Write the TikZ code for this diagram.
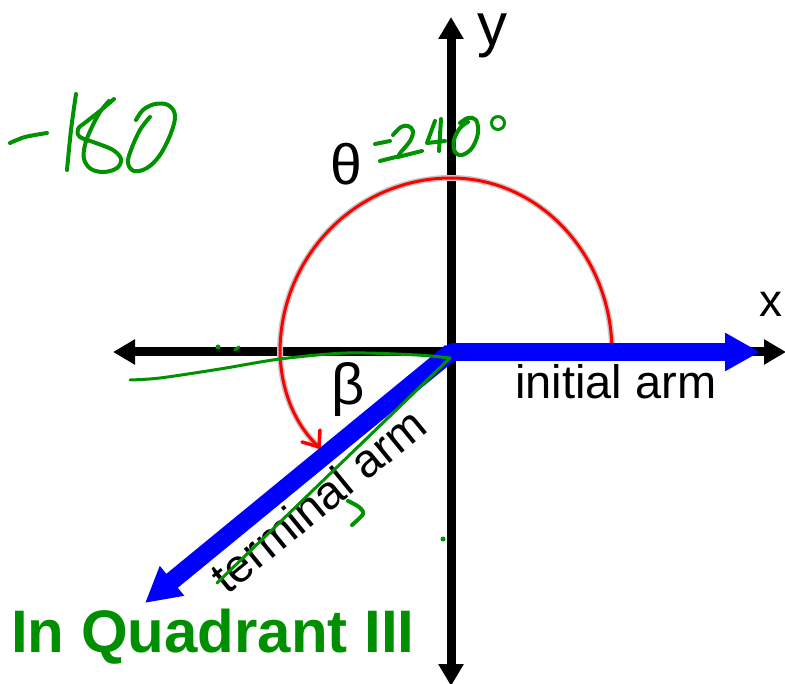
\documentclass[tikz,border=0pt]{standalone}
\usepackage{fontspec}
\setmainfont{Liberation Sans}
\usetikzlibrary{arrows.meta}
\definecolor{hgreen}{RGB}{0,146,0}
\definecolor{tgreen}{RGB}{0,143,0}
\tikzset{
  axis/.style={line width=9pt, draw=black, {Triangle[length=22pt,width=24pt]}-{Triangle[length=22pt,width=24pt]}},
  arm/.style={line width=18pt, draw=blue, -{Triangle[length=35pt,width=36pt]}},
  ink/.style={draw=hgreen, line width=4pt, line cap=round, line join=round},
  thinink/.style={draw=hgreen, line width=3pt, line cap=round, line join=round},
  lbl/.style={inner sep=0pt, anchor=base west},
}
\begin{document}
\begin{tikzpicture}[x=1pt,y=-1pt]
\useasboundingbox (0,0) rectangle (785,684);
% coordinates
\coordinate (O) at (451,352);
\coordinate (ytop) at (451,17);
\coordinate (ybot) at (451,686);
\coordinate (xleft) at (113,352);
\coordinate (xright) at (786,352);
\coordinate (initip) at (760,352);
\coordinate (termtip) at (145,603);
% axes
\draw[axis] (xleft) -- (xright);
\draw[axis] (ybot) -- (ytop);
% red angle arc
\coordinate (a0) at (612,352);
\coordinate (a1) at (451,178);
\coordinate (a2) at (280,352);
\coordinate (a3) at (319,447);
\path[draw=gray!45, line width=6pt, line cap=round]
  (a0) .. controls (612,256) and (540,178) .. (a1)
       .. controls (357,178) and (280,256) .. (a2)
       .. controls (281,395) and (298,428) .. (a3);
\path[draw=red, line width=3pt, line cap=round, line join=round]
  (a0) .. controls (612,256) and (540,178) .. (a1)
       .. controls (357,178) and (280,256) .. (a2)
       .. controls (281,395) and (298,428) .. (a3);
\coordinate (h1) at (320,430);
\coordinate (h2) at (302,442);
\draw[red, line width=3.5pt, line cap=round, line join=round] (h1) -- (a3) -- (h2);
% blue arms
\draw[arm] (O) -- (initip);
\draw[arm] (O) -- (termtip);
\fill[blue] (O) circle (8pt);
% labels
\node[lbl, font=\fontsize{60}{60}\selectfont] (ylab) at (477,46) {y};
\node[lbl, font=\fontsize{46}{46}\selectfont] (xlab) at (759,317) {x};
\node[lbl, font=\fontsize{57}{57}\selectfont] (theta) at (330,185) {θ};
\node[lbl, font=\fontsize{58}{58}\selectfont] (beta) at (331,405) {β};
\node[lbl, font=\fontsize{47}{47}\selectfont] (ini) at (515,399) {initial arm};
\node[inner sep=0pt, rotate=39.3, font=\fontsize{47}{47}\selectfont] (ter) at (318,500) {terminal arm};
\node[lbl, text=tgreen, font=\bfseries\fontsize{60}{60}\selectfont] (quad) at (11,652) {In Quadrant III};
% handwriting: -180
\draw[ink] plot[smooth] coordinates {(10,143) (25,137) (47,133)};
\draw[ink] plot[smooth] coordinates {(76,94) (71,130) (67,170)};
\draw[ink] plot[smooth, tension=0.6] coordinates {(114,99) (100,111) (86,122) (78,129) (80,137) (96,143) (113,150) (121,159) (117,168) (104,172) (91,169) (84,159) (85,145) (91,129) (100,112) (109,101)};
\draw[ink] plot[smooth, tension=0.6] coordinates {(150,117) (140,130) (131,150) (128,163) (134,171) (147,168) (160,155) (171,133) (175,115) (168,105) (155,104) (143,110) (136,120)};
% handwriting: =240°
\draw[ink] (375,144) -- (390,141);
\draw[ink] (380,161) -- (396,157);
\draw[ink] plot[smooth, tension=0.6] coordinates {(393,135) (401,127) (408,126) (413,131) (410,141) (401,152) (398,157)};
\draw[ink] (398,157) -- (422,151);
\draw[ink] (435,121) -- (427,143) -- (445,141);
\draw[ink] (441,119) -- (439,151);
\draw[ink] plot[smooth, tension=0.6] coordinates {(468,122) (460,128) (454,140) (455,152) (462,155) (472,148) (478,133) (476,120) (468,118) (460,123)};
\draw[draw=hgreen, line width=3pt] (498,123) circle (6.5pt);
% handwriting near axes
\draw[thinink] plot[smooth] coordinates {(130,380) (160,378) (220,369) (280,359) (347,353) (417,355) (450,358)};
\coordinate (gend) at (217,583);
\draw[thinink] (450,358) -- (gend);
\fill[hgreen] (218,347) circle (2.5pt);
\draw[thinink] (235,350) -- (239,347);
\fill[hgreen] (443,539) circle (2.5pt);
\draw[ink] plot[smooth] coordinates {(348,501) (359,507) (363,514) (352,525)};
\end{tikzpicture}
\end{document}
